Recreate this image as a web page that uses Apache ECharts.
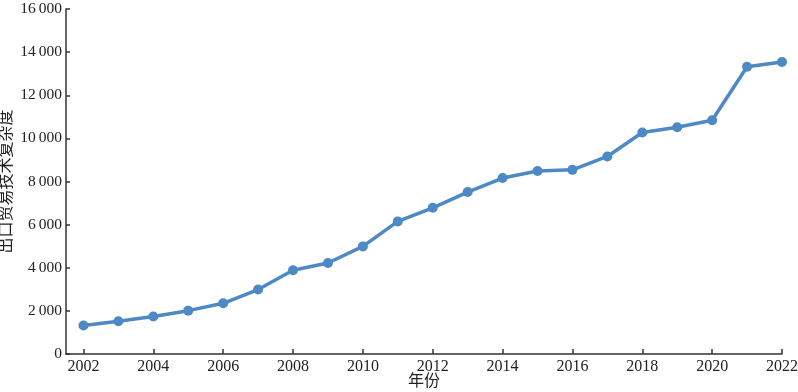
<!DOCTYPE html>
<html><head><meta charset="utf-8">
<script src="https://cdn.jsdelivr.net/npm/echarts@6/dist/echarts.min.js"></script>
<style>html,body{margin:0;padding:0;background:#fff}#c{width:798px;height:392px}</style>
</head><body><div id="c"></div>
<script>
var years = [2002,2003,2004,2005,2006,2007,2008,2009,2010,2011,2012,2013,2014,2015,2016,2017,2018,2019,2020,2021,2022];
var values = [1320,1520,1740,2010,2350,2990,3880,4220,4990,6150,6780,7510,8160,8490,8540,9160,10270,10520,10840,13320,13540];
var xTicks = [2002,2004,2006,2008,2010,2012,2014,2016,2018,2020,2022];
var xName = '年份';
var yName = '出口贸易技术复杂度';

var font = '"Liberation Serif", "Noto Sans CJK SC", serif';
var chart = echarts.init(document.getElementById('c'));
chart.setOption({
  animation: false,
  grid: {left: 66, right: 16, top: 9, bottom: 38, containLabel: false, outerBoundsMode: 'none'},
  xAxis: {
    type: 'value', min: 2001.5, max: 2022,
    name: xName, nameLocation: 'middle', nameGap: 20, nameMoveOverlap: false,
    nameTextStyle: {fontFamily: font, fontSize: 16, color: '#222'},
    axisLine: {show: true, lineStyle: {color: '#333', width: 1.5}},
    axisTick: {show: true, inside: true, length: 5, customValues: xTicks, lineStyle: {color: '#333', width: 1.5}},
    axisLabel: {customValues: xTicks, fontFamily: font, fontSize: 16, color: '#222', margin: 5,
      formatter: function(v){ return String(v); }},
    splitLine: {show: false}
  },
  yAxis: {
    type: 'value', min: 0, max: 16000, interval: 2000,
    name: yName, nameLocation: 'middle', nameGap: 51, nameMoveOverlap: false,
    nameTextStyle: {fontFamily: font, fontSize: 16, color: '#222'},
    axisLine: {show: true, lineStyle: {color: '#333', width: 1.5}},
    axisTick: {show: true, inside: true, length: 4, lineStyle: {color: '#333', width: 1.5}},
    axisLabel: {fontFamily: font, fontSize: 15.5, color: '#222', margin: 4,
      formatter: function(v){ return String(v).replace(/\B(?=(\d{3})+(?!\d))/g, '\u2009'); }},
    splitLine: {show: false}
  },
  series: [{
    type: 'line',
    data: years.map(function(y,i){return [y, values[i]];}),
    symbol: 'circle', symbolSize: 10,
    lineStyle: {color: '#4d89c4', width: 3.5},
    itemStyle: {color: '#4d89c4'}
  }]
});
</script></body></html>
